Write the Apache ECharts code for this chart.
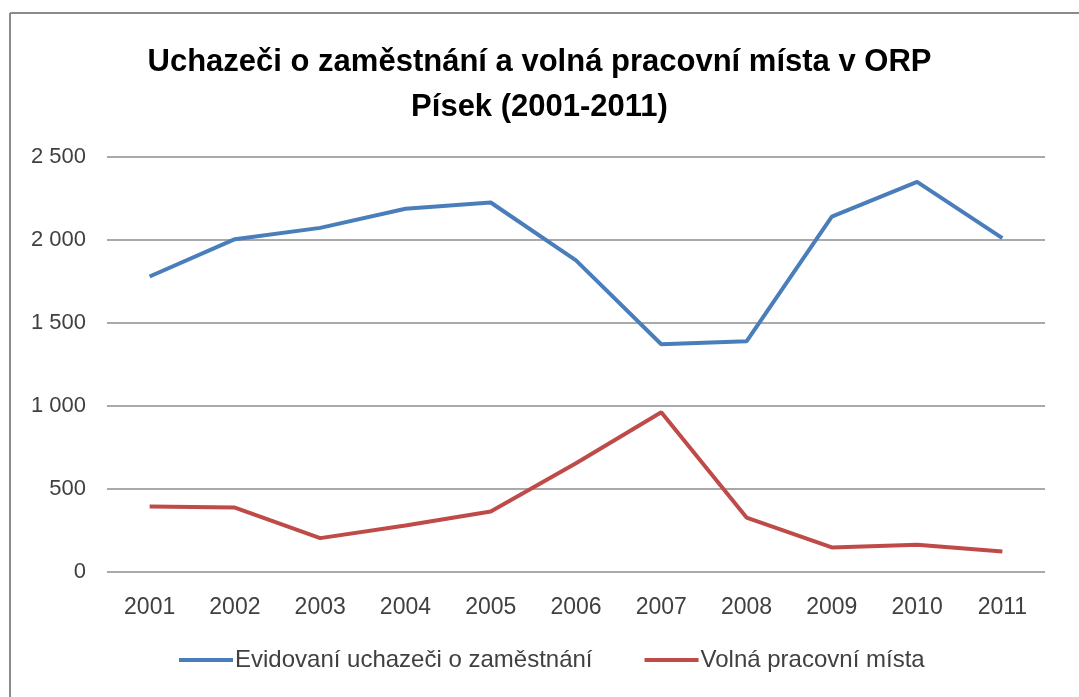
<!DOCTYPE html>
<html>
<head>
<meta charset="utf-8">
<script src="https://cdn.jsdelivr.net/npm/echarts@6/dist/echarts.min.js"></script>
<style>
  html, body { margin: 0; padding: 0; background: #fff; }
  #chart { width: 1079px; height: 697px; }
</style>
</head>
<body>
<div id="chart"></div>
<script>
const years = ['2001', '2002', '2003', '2004', '2005', '2006', '2007', '2008', '2009', '2010', '2011'];
const uchazeci = [1780, 2005, 2073, 2188, 2226, 1877, 1372, 1390, 2141, 2350, 2011];
const volnaMista = [394, 388, 204, 280, 364, 655, 962, 328, 148, 164, 124];
const seriesNames = ['Evidovaní uchazeči o zaměstnání', 'Volná pracovní místa'];

const fontFam = '"Liberation Sans", Arial, sans-serif';

const chart = echarts.init(document.getElementById('chart'));
chart.setOption({
  animation: false,
  color: ['#4a7ebb', '#be4b48'],
  title: {
    text: 'Uchazeči o zaměstnání a volná pracovní místa v ORP\nPísek (2001-2011)',
    left: 'center',
    top: 35,
    textStyle: {
      fontFamily: fontFam,
      fontSize: 31,
      fontWeight: 'bold',
      color: '#000',
      lineHeight: 45
    }
  },
  grid: {
    left: 107,
    right: 34,
    top: 157,
    bottom: 125
  },
  legend: {
    bottom: 20,
    left: 174,
    itemWidth: 54,
    itemHeight: 4,
    itemGap: 52,
    icon: 'rect',
    textStyle: { fontFamily: fontFam, fontSize: 24, color: '#404040', padding: [0, 0, 0, -3] },
    data: seriesNames
  },
  xAxis: {
    type: 'category',
    data: years,
    boundaryGap: true,
    axisLine: { show: false },
    axisTick: { show: false },
    axisLabel: { fontFamily: fontFam, fontSize: 23, color: '#404040', margin: 24 }
  },
  yAxis: {
    type: 'value',
    min: 0,
    max: 2500,
    interval: 500,
    axisLine: { show: false },
    axisTick: { show: false },
    splitLine: { lineStyle: { color: '#8c8c8c', width: 1.5 } },
    axisLabel: {
      fontFamily: fontFam,
      fontSize: 22,
      color: '#404040',
      margin: 21,
      formatter: v => String(v).replace(/\B(?=(\d{3})+(?!\d))/g, ' ')
    }
  },
  series: [
    {
      name: seriesNames[0],
      type: 'line',
      data: uchazeci,
      symbol: 'none',
      lineStyle: { width: 4 }
    },
    {
      name: seriesNames[1],
      type: 'line',
      data: volnaMista,
      symbol: 'none',
      lineStyle: { width: 4 }
    }
  ],
  graphic: [
    { type: 'line', shape: { x1: 10, y1: 13, x2: 1079, y2: 13 }, style: { stroke: '#8a8a8a', lineWidth: 2 } },
    { type: 'line', shape: { x1: 10, y1: 13, x2: 10, y2: 697 }, style: { stroke: '#8a8a8a', lineWidth: 2 } }
  ]
});
</script>
</body>
</html>
